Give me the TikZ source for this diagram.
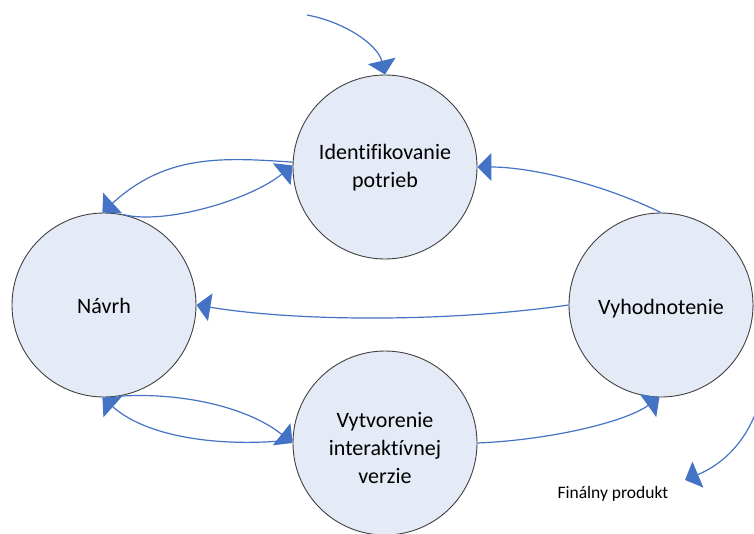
\documentclass[tikz,border=0pt]{standalone}
\usepackage{fontspec}
\setmainfont{Carlito}[Ligatures={NoCommon,NoContextual}]
\usetikzlibrary{arrows.meta}
\definecolor{arrowblue}{HTML}{4472C4}
\definecolor{circfill}{HTML}{E5EBF6}
\definecolor{circline}{HTML}{404040}
\begin{document}
\begin{tikzpicture}[x=1pt,y=-1pt,
  stage/.style={circle, draw=circline, line width=0.9pt, fill=circfill, minimum size=184pt, inner sep=0pt},
  lbl/.style={font=\fontsize{22pt}{28pt}\selectfont, align=center, text=black},
  flow/.style={draw=arrowblue, line width=1.2pt, -{Triangle[length=14pt,width=28pt]}},
]
\useasboundingbox (0,0) rectangle (754,533);
\clip (0,0) rectangle (754,533);
\node[stage, label={[lbl,yshift=-1pt]center:{Identifikovanie\\potrieb}}] (I) at (385,167) {};
\node[stage, label={[lbl,yshift=-1pt]center:{Návrh}}] (N) at (104,305) {};
\node[stage, label={[lbl,yshift=-3.7pt]center:{Vyhodnotenie}}] (V) at (661,305) {};
\node[stage, label={[lbl,yshift=-5pt]center:{Vytvorenie\\interaktívnej\\verzie}}] (T) at (385,443) {};
\coordinate (src) at (307,15);
\coordinate (fp) at (685,480);
\draw[flow] (src) .. controls (345,22) and (378,45) .. (I.north);
\draw[flow] (I.177) .. controls (220,157) and (165,155) .. (N.91);
\draw[flow] (N.78) .. controls (165,225) and (250,200) .. (I.179);
\draw[flow] (V.north) .. controls (600,183) and (530,167) .. (I.east);
\draw[flow] (V.west) .. controls (450,322) and (300,322) .. (N.east);
\draw[flow] (N.-81) .. controls (175,392) and (245,405) .. (T.west);
\draw[flow] (T.178) .. controls (230,447) and (150,440) .. (N.-91);
\draw[flow] (T.east) .. controls (550,440) and (625,422) .. (V.-91);
\draw[flow] (V.east) .. controls (778,350) and (768,445) .. (fp);
\node[anchor=base west, font=\fontsize{17.5pt}{20pt}\selectfont] (fin) at (554,498) {Finálny produkt};
\end{tikzpicture}
\end{document}
